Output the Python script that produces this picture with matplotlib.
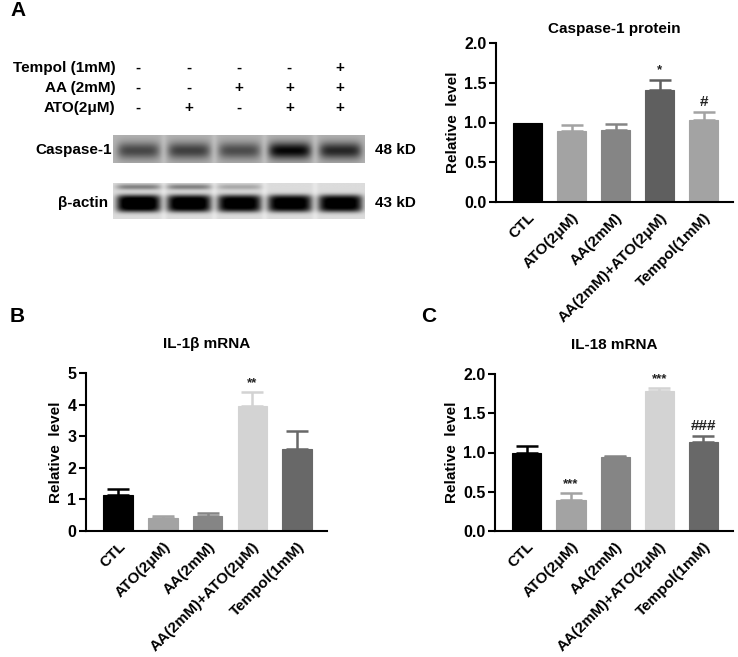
import numpy as np
import matplotlib
matplotlib.use("Agg")
import matplotlib.pyplot as plt

plt.rcParams['font.family'] = ['Liberation Sans', 'DejaVu Sans']
plt.rcParams['font.weight'] = 'bold'

# data
groups = ['CTL', 'ATO(2μM)', 'AA(2mM)', 'AA(2mM)+ATO(2μM)', 'Tempol(1mM)']

casp_mean = [1.00, 0.89, 0.91, 1.41, 1.03]
casp_err = [0.00, 0.08, 0.07, 0.13, 0.10]
casp_sig = ['', '', '', '*', '#']
casp_colors = ['#000000', '#a3a3a3', '#858585', '#5f5f5f', '#a3a3a3']

il1b_mean = [1.15, 0.42, 0.48, 3.95, 2.58]
il1b_err = [0.17, 0.06, 0.09, 0.45, 0.60]
il1b_sig = ['', '', '', '**', '']

il18_mean = [1.00, 0.40, 0.94, 1.78, 1.14]
il18_err = [0.08, 0.08, 0.02, 0.04, 0.07]
il18_sig = ['', '***', '', '***', '###']
mrna_colors = ['#000000', '#a3a3a3', '#858585', '#d3d3d3', '#686868']

# western blot layout
treat_rows = ['Tempol (1mM)', 'AA (2mM)', 'ATO(2μM)']
treat_signs = [['-', '-', '-', '-', '+'],
               ['-', '-', '+', '+', '+'],
               ['-', '+', '-', '+', '+']]
casp_band = [0.42, 0.45, 0.40, 0.68, 0.55]
actin_band = [0.97, 0.95, 0.92, 0.92, 0.92]

W, H = 738, 657
fig = plt.figure(figsize=(W / 100, H / 100), dpi=100)


def px_axes(x0, y0, x1, y1):
    return fig.add_axes([x0 / W, 1 - y1 / H, (x1 - x0) / W, (y1 - y0) / H])


def bar_panel(ax, means, errs, sigs, colors, ymax, step, title, title_pad, fmt):
    x = np.arange(len(means))
    ax.bar(x, means, width=0.66, color=colors, edgecolor=colors, linewidth=0.8, zorder=2)
    for xi, m, e, c in zip(x, means, errs, colors):
        if e > 0:
            ax.errorbar(xi, m, yerr=[[0], [e]], fmt='none', ecolor=c,
                        elinewidth=1.8, capsize=8, capthick=1.8, zorder=1)
    for xi, m, e, s in zip(x, means, errs, sigs):
        if s:
            fs = 11 if '#' in s else 9.5
            ax.text(xi, m + e + ymax * 0.02, s, ha='center', va='bottom',
                    fontsize=fs, fontweight='bold', color='#222222')
    ax.set_xlim(-0.72, len(means) - 0.33)
    ax.set_ylim(0, ymax)
    ax.set_yticks(np.arange(0, ymax + step / 2, step))
    ax.yaxis.set_major_formatter(plt.FormatStrFormatter(fmt))
    ax.set_xticks(x)
    ax.set_xticklabels(groups, rotation=45, ha='right', rotation_mode='anchor',
                       fontsize=11, fontweight='bold')
    ax.tick_params(axis='x', length=0, pad=6)
    ax.tick_params(axis='y', length=5, width=1.5, labelsize=11.5, pad=2)
    for t in ax.get_yticklabels():
        t.set_fontweight('bold')
    ax.spines['top'].set_visible(False)
    ax.spines['right'].set_visible(False)
    ax.spines['left'].set_linewidth(1.5)
    ax.spines['bottom'].set_linewidth(1.5)
    ax.set_ylabel('Relative  level', fontsize=11, fontweight='bold', labelpad=3)
    ax.set_title(title, fontsize=11, fontweight='bold', pad=title_pad)


def blot_image(bands, bg, yc, thick, width, upper=None, power=2):
    ny, nx = 60, 250
    yy, xx = np.mgrid[0:ny, 0:nx]
    xs = xx / nx * len(bands)
    ys = yy / ny
    img = np.full((ny, nx), bg)
    for i, d in enumerate(bands):
        hx = np.exp(-np.abs((xs - (i + 0.5)) / width) ** 6)
        vy = np.exp(-np.abs((ys - yc) / thick) ** power)
        img -= d * hx * vy
        if upper is not None:
            img -= upper[i] * hx * np.exp(-((ys - 0.1) / 0.08) ** 2)
    # lighter gaps between lanes
    for i in range(1, len(bands)):
        img += 0.05 * np.exp(-((xs - i) / 0.06) ** 2)
    return np.clip(img, 0, 1)


# panel A: treatments
ax_t = px_axes(113, 58, 365, 118)
ax_t.set_xlim(0, 5)
ax_t.set_ylim(3, 0)
ax_t.axis('off')
for r, (lab, signs) in enumerate(zip(treat_rows, treat_signs)):
    ax_t.text(0.05, r + 0.5, lab, ha='right', va='center', fontsize=11, fontweight='bold')
    for i, s in enumerate(signs):
        ax_t.text(i + 0.5, r + 0.5, s, ha='center', va='center', fontsize=11, fontweight='bold')

ax_c = px_axes(113, 135, 365, 163)
ax_c.imshow(blot_image(casp_band, 0.70, 0.55, 0.3, 0.42), cmap='gray', vmin=0, vmax=1,
            aspect='auto', extent=(0, 5, 1, 0))
ax_c.axis('off')
ax_c.text(-0.02, 0.55, 'Caspase-1', ha='right', va='center', fontsize=11, fontweight='bold')
ax_c.text(5.2, 0.55, '48 kD', ha='left', va='center', fontsize=11, fontweight='bold')

ax_a = px_axes(113, 183, 365, 219)
ax_a.imshow(blot_image(actin_band, 0.86, 0.56, 0.24, 0.44, upper=[0.35, 0.35, 0.2, 0.0, 0.0],
                       power=4),
            cmap='gray', vmin=0, vmax=1, aspect='auto', extent=(0, 5, 1, 0))
ax_a.axis('off')
ax_a.text(-0.1, 0.55, 'β-actin', ha='right', va='center', fontsize=11, fontweight='bold')
ax_a.text(5.2, 0.55, '43 kD', ha='left', va='center', fontsize=11, fontweight='bold')

# bar charts
axA = px_axes(496, 43, 733, 202)
bar_panel(axA, casp_mean, casp_err, casp_sig, casp_colors, 2.0, 0.5,
          'Caspase-1 protein', 7, '%.1f')

axB = px_axes(86, 373, 327, 531)
bar_panel(axB, il1b_mean, il1b_err, il1b_sig, mrna_colors, 5, 1,
          'IL-1β mRNA', 18, '%d')

axC = px_axes(495, 374, 733, 531)
bar_panel(axC, il18_mean, il18_err, il18_sig, mrna_colors, 2.0, 0.5,
          'IL-18 mRNA', 18, '%.1f')

# panel letters
fig.text(10 / W, 1 - 10 / H, 'A', fontsize=15, fontweight='bold', va='center')
fig.text(10 / W, 1 - 317 / H, 'B', fontsize=15, fontweight='bold', va='center')
fig.text(421 / W, 1 - 317 / H, 'C', fontsize=15, fontweight='bold', va='center')

fig.savefig('out.png', dpi=100)
